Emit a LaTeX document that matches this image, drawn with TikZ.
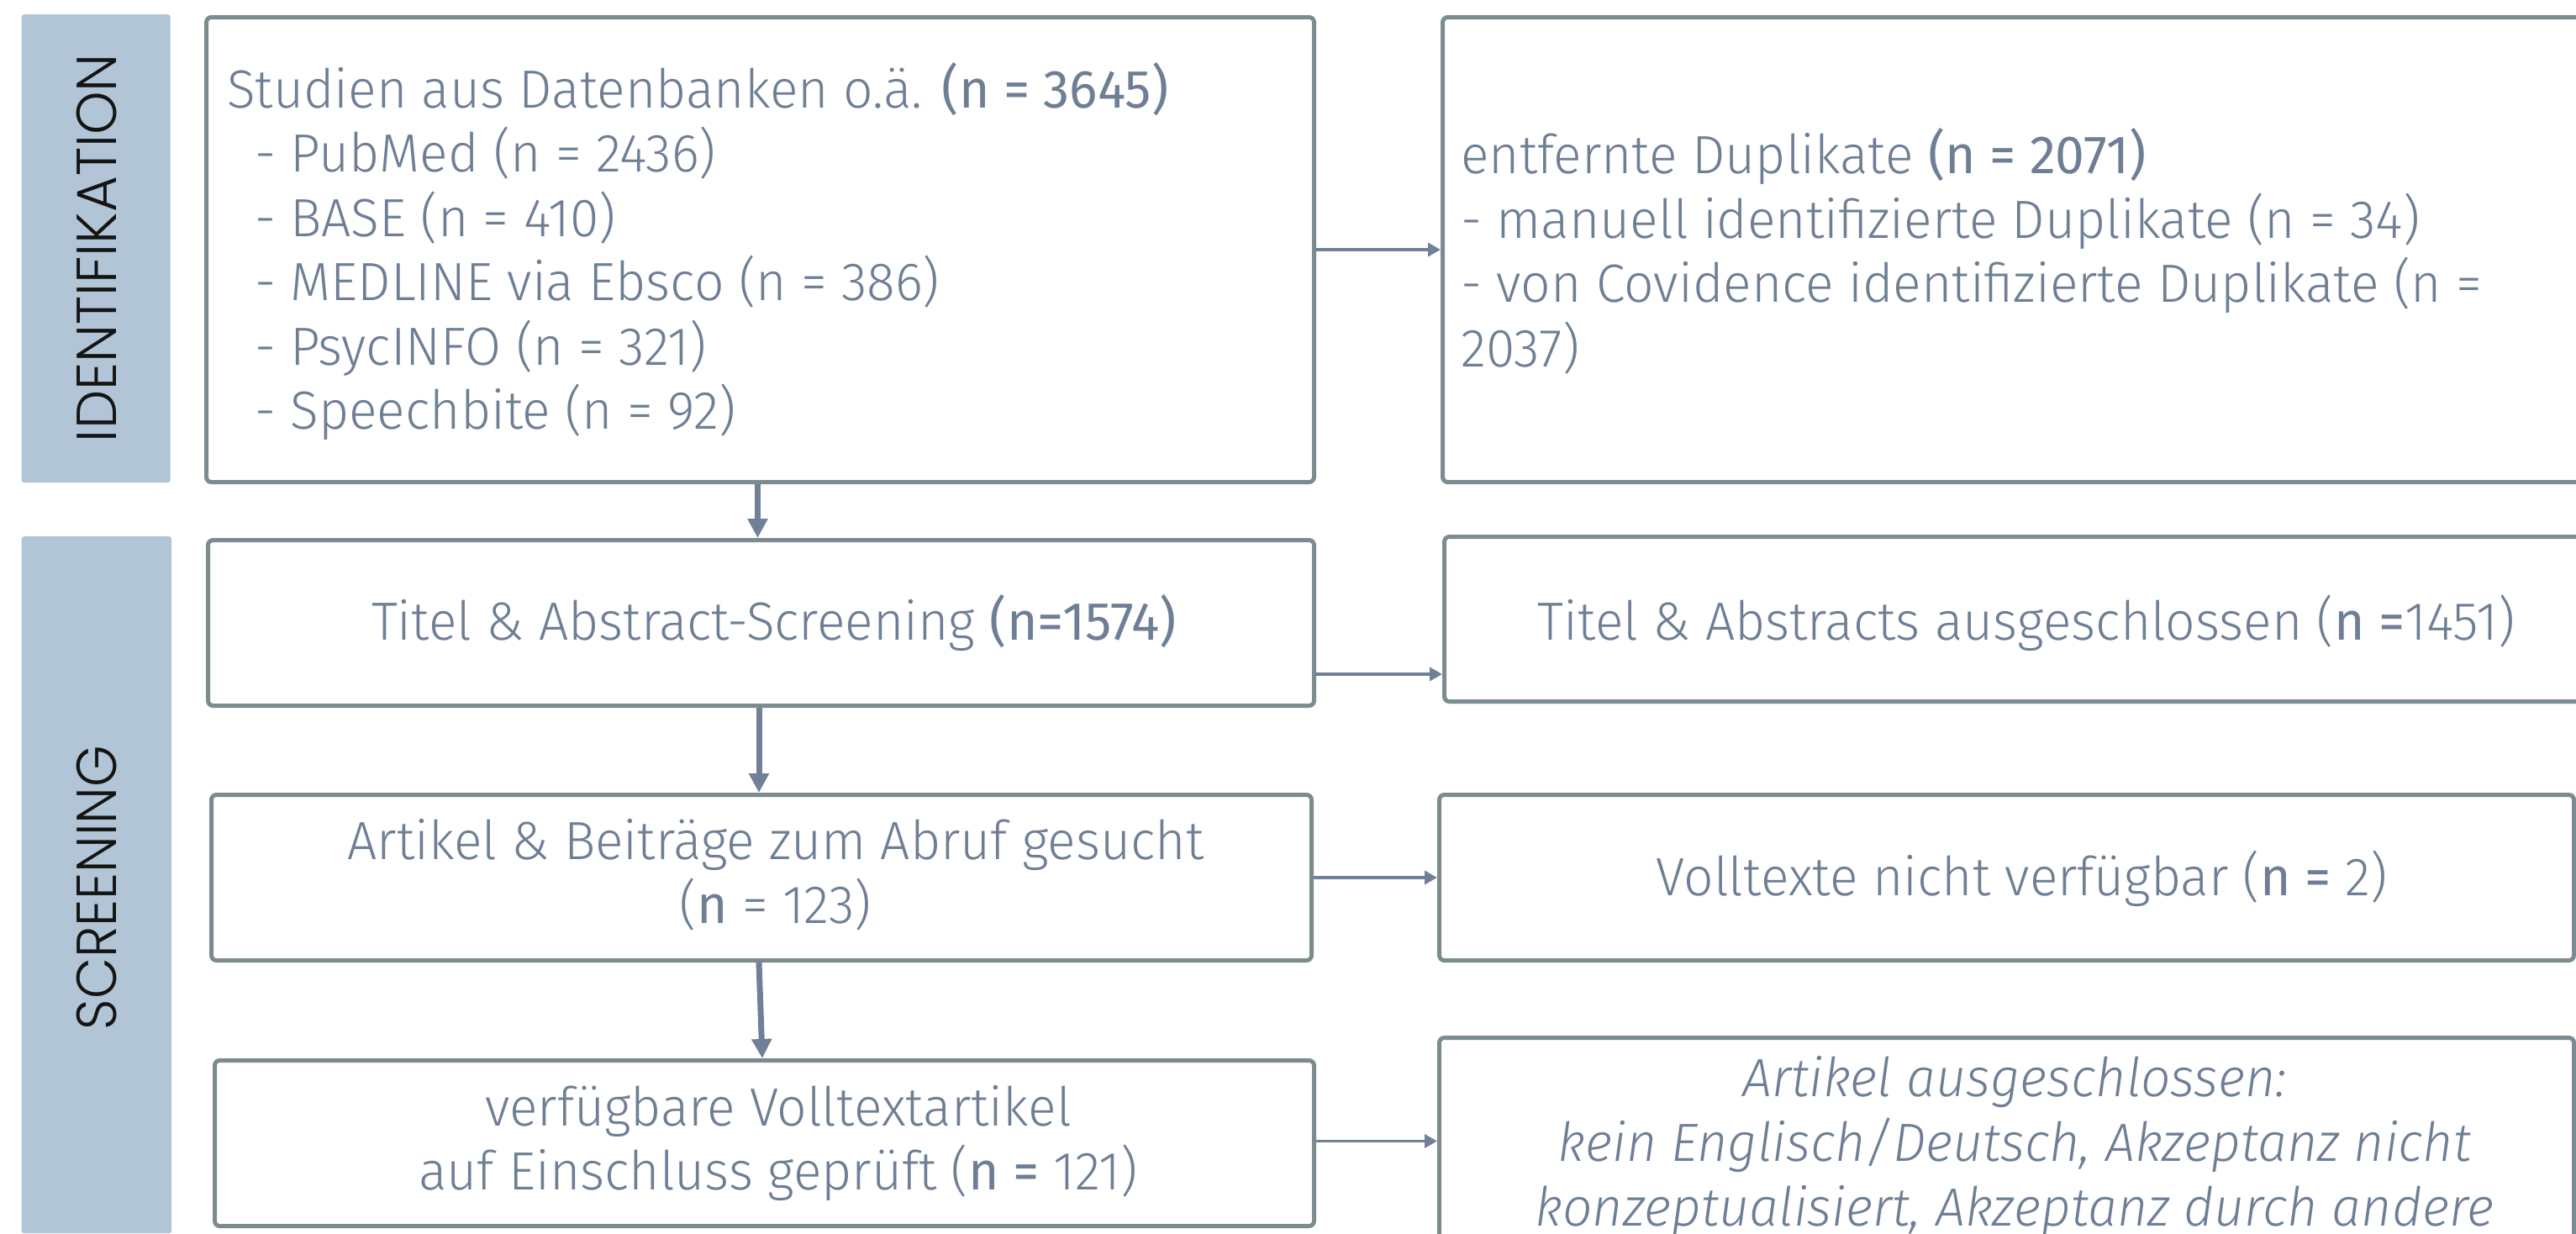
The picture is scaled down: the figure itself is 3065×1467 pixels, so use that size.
\documentclass[tikz,border=0pt]{standalone}
\usepackage{fontspec}
\setmainfont{Fira Sans}[UprightFont=* Light, ItalicFont=* Light Italic, FakeStretch=0.975]
\newfontfamily\regfont{Fira Sans}[FakeStretch=0.975]
\newfontfamily\sidefont{Poppins}[UprightFont=* Light]
\usetikzlibrary{arrows.meta}
\definecolor{txtc}{RGB}{110,127,149}
\definecolor{bordc}{RGB}{124,140,142}
\definecolor{sidec}{RGB}{177,197,214}
\definecolor{arrc}{RGB}{112,128,150}
\definecolor{sidetxt}{RGB}{20,20,20}
\newcommand{\nb}[1]{{\regfont #1}}
\tikzset{
  boxnode/.style={draw=bordc, line width=5pt, rounded corners=6pt, fill=white, anchor=north west, inner sep=0pt},
  sidebar/.style={fill=sidec, draw=none, rounded corners=3pt, anchor=north west, inner sep=0pt},
  bodytext/.style={text=txtc, inner sep=0pt, font=\fontsize{64}{76.5}\selectfont},
  sidetext/.style={text=sidetxt, inner sep=0pt, rotate=90},
  bigarr/.style={draw=arrc, line width=7pt, -{Triangle[length=23pt,width=23pt]}},
  smallarr/.style={draw=arrc, line width=3.5pt, -{Triangle[length=15pt,width=16pt]}}
}
\begin{document}
\begin{tikzpicture}[x=1pt,y=-1pt]
\useasboundingbox (0,0) rectangle (3065,1467);
\clip (0,0) rectangle (3065,1467);
% sidebars
\node[sidebar, minimum width=177pt, minimum height=557pt] (s1) at (25.5,17) {};
\node[sidebar, minimum width=178.5pt, minimum height=829pt] (s2) at (25.5,638) {};
\node[sidetext] (st1) at (115,295) {\resizebox{462pt}{\height}{\sidefont\fontsize{67}{67}\selectfont IDENTIFIKATION}};
\node[sidetext] (st2) at (115,1056) {\resizebox{338pt}{\height}{\sidefont\fontsize{67}{67}\selectfont SCREENING}};
% boxes
\node[boxnode, minimum width=1318pt, minimum height=553pt] (b1) at (243,18) {};
\node[boxnode, minimum width=1353pt, minimum height=553pt] (b2) at (1714,18) {};
\node[boxnode, minimum width=1316pt, minimum height=197pt] (b3) at (245,640) {};
\node[boxnode, minimum width=1360pt, minimum height=196pt] (b6) at (1716,636) {};
\node[boxnode, minimum width=1309pt, minimum height=197pt] (b4) at (249,943) {};
\node[boxnode, minimum width=1350pt, minimum height=197pt] (b7) at (1710,943) {};
\node[boxnode, minimum width=1308pt, minimum height=197pt] (b5) at (253,1259) {};
\node[boxnode, minimum width=1350pt, minimum height=300pt] (b8) at (1710,1232) {};
% texts
\node[bodytext, anchor=west, align=left] (t1) at (270,299) {Studien aus Datenbanken o.ä. \nb{(n = 3645)}\\
\hspace*{33pt}- PubMed (n = 2436)\\
\hspace*{33pt}- BASE (n = 410)\\
\hspace*{33pt}- MEDLINE via Ebsco (n = 386)\\
\hspace*{33pt}- PsycINFO (n = 321)\\
\hspace*{33pt}- Speechbite (n = 92)};
\node[bodytext, anchor=west, align=left] (t2) at (1738,299) {entfernte Duplikate \nb{(n = 2071)}\\
- manuell identifizierte Duplikate (n = 34)\\
- von Covidence identifizierte Duplikate (n =\\
2037)};
\node[bodytext] (t3) at (921,741) {Titel \& Abstract-Screening \nb{(n=1574)}};
\node[bodytext] (t6) at (2411,741) {Titel \& Abstracts ausgeschlossen (\nb{n =}1451)};
\node[bodytext, align=center] (t4) at (923,1041) {Artikel \& Beiträge zum Abruf gesucht\\(\nb{n} = 123)};
\node[bodytext] (t7) at (2406,1045) {Volltexte nicht verfügbar (\nb{n =} 2)};
\node[bodytext, align=center] (t5) at (926,1360) {verfügbare Volltextartikel\\auf Einschluss geprüft (\nb{n =} 121)};
\node[bodytext, align=center, anchor=north, font=\fontsize{64}{77}\selectfont\itshape] (t8) at (2397,1256) {Artikel ausgeschlossen:\\
kein Englisch/Deutsch, Akzeptanz nicht\\
konzeptualisiert, Akzeptanz durch andere};
% connectors
\coordinate (y3) at (0,802);
\coordinate (y5) at (0,1357.5);
\draw[smallarr] (b1.east) -- (b1.east -| b2.west);
\draw[smallarr] (b3.east |- y3) -- (b6.west |- y3);
\draw[smallarr] (b4.east) -- (b4.east -| b7.west);
\draw[smallarr] (b5.east |- y5) -- (b8.west |- y5);
\draw[bigarr] (b1.south -| 901.5,0) -- (b3.north -| 901.5,0);
\draw[bigarr] (b3.south -| 903,0) -- (b4.north -| 903,0);
\draw[bigarr] (b4.south -| 903,0) -- (b5.north -| 907,0);
\end{tikzpicture}
\end{document}
